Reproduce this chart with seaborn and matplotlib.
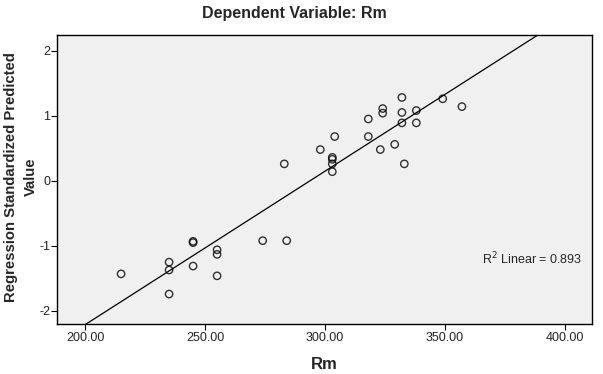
import matplotlib
matplotlib.use('Agg')
import pandas as pd
import matplotlib.pyplot as plt
import seaborn as sns

# values
rm = [215, 235, 235, 235, 245, 245, 245, 255, 255, 255, 274, 284,
      283, 298, 304, 303, 303, 303, 303, 318, 318, 323, 324, 324,
      329, 332, 332, 332, 333, 338, 338, 349, 357]
pred = [-1.43, -1.25, -1.37, -1.74, -0.93, -0.95, -1.31, -1.06, -1.13, -1.46, -0.92, -0.92,
        0.26, 0.48, 0.68, 0.36, 0.33, 0.26, 0.14, 0.95, 0.68, 0.48, 1.11, 1.04,
        0.56, 1.28, 1.05, 0.89, 0.26, 1.08, 0.89, 1.26, 1.14]
x_ticks = [200, 250, 300, 350, 400]
y_ticks = [-2, -1, 0, 1, 2]

df = pd.DataFrame({'Rm': rm, 'Pred': pred})

sns.set_style('white')
plt.rcParams['font.family'] = ['Liberation Sans', 'DejaVu Sans']
plt.rcParams['axes.unicode_minus'] = False

fig = plt.figure(figsize=(6.03, 3.74), dpi=100)
ax = fig.add_axes([0.0945, 0.1337, 0.8873, 0.7727])
ax.set_facecolor('#f0f0f0')
ax.set_xlim(188.3, 411.2)
ax.set_ylim(-2.2, 2.24)

sns.regplot(data=df, x='Rm', y='Pred', ax=ax, ci=None, truncate=False,
            scatter_kws={'s': 28, 'facecolors': 'none', 'edgecolors': 'black', 'linewidths': 1.0},
            line_kws={'color': 'black', 'linewidth': 0.9})

ax.set_xlim(188.3, 411.2)
ax.set_ylim(-2.2, 2.24)
ax.set_xticks(x_ticks)
ax.set_xticklabels([f'{v:.2f}' for v in x_ticks])
ax.set_yticks(y_ticks)
ax.tick_params(axis='both', direction='out', length=4, width=0.8, color='black',
               labelsize=9, labelcolor='#222222', bottom=True, left=True, pad=2)
ax.tick_params(axis='y', pad=1)

for s in ax.spines.values():
    s.set_color('black')
    s.set_linewidth(1.0)

ax.set_xlabel('Rm', fontsize=12, fontweight='bold', labelpad=9)
ax.set_ylabel('Regression Standardized Predicted\nValue', fontsize=10.7,
              fontweight='bold', linespacing=1.5)
ax.yaxis.set_label_coords(-0.036, 0.51)

ax.text(365.4, -1.2, 'R$^2$ Linear = 0.893', fontsize=9, ha='left', va='center')

fig.text(0.488, 0.965, 'Dependent Variable: Rm', ha='center', va='center',
         fontsize=11.5, fontweight='bold')

fig.savefig('out.png', dpi=100)
